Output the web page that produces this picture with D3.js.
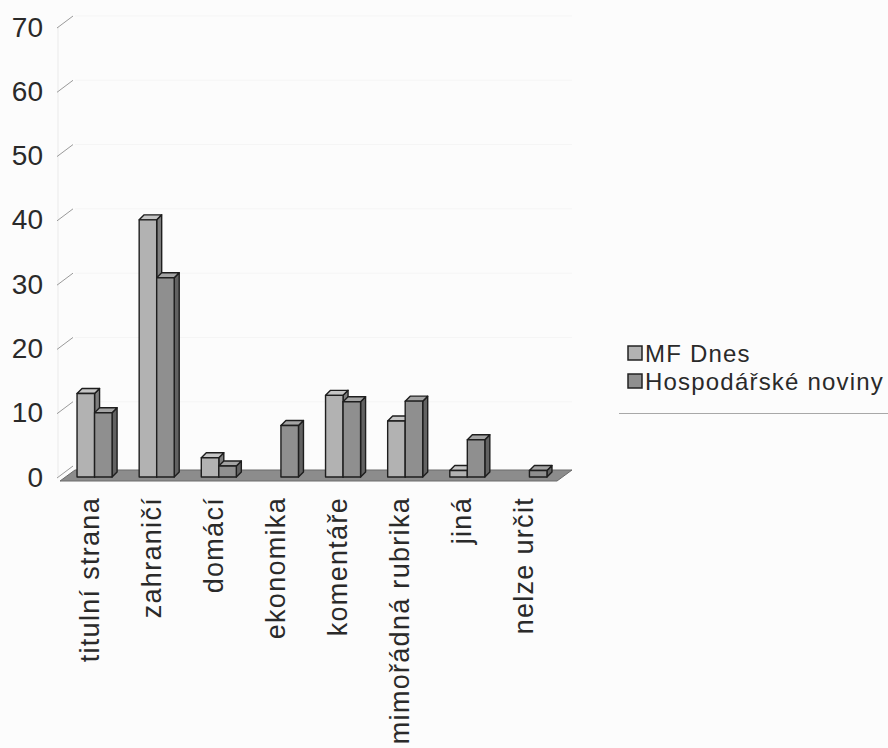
<!DOCTYPE html>
<html>
<head>
<meta charset="utf-8">
<script src="https://cdn.jsdelivr.net/npm/d3@7"></script>
<style>
  html, body { margin: 0; padding: 0; background: #fcfcfc; }
  svg { display: block; font-family: "Liberation Sans", Arial, sans-serif; }
</style>
</head>
<body>
<svg id="chart" width="888" height="748"></svg>
<script>
// Categories (newspaper sections) and the share for each paper
const categories = ["titulní strana", "zahraničí", "domácí", "ekonomika", "komentáře", "mimořádná rubrika", "jiná", "nelze určit"];
const seriesNames = ["MF Dnes", "Hospodářské noviny"];
const mfDnes = [13, 40, 3, 0, 12.7, 8.7, 1, 0];
const hospodarskeNoviny = [10, 31, 1.7, 8, 11.7, 11.8, 5.8, 1];
const yTicks = [0, 10, 20, 30, 40, 50, 60, 70];

const svg = d3.select("#chart");

// Oblique 3D projection: depth of floor/wall and depth of each bar
const floorDepth = { dx: 15, dy: -11 };
const barDepth = { dx: 5, dy: -5 };

const y = d3.scaleLinear().domain([0, 70]).range([477, 27]);
const x = d3.scaleBand().domain(categories).range([63.5, 560.5]).paddingInner(0.436).paddingOuter(0.218);
const xs = d3.scaleBand().domain(seriesNames).range([0, x.bandwidth()]);

const fills = {
  "MF Dnes": { front: "#b2b2b2", top: "#c6c6c6", side: "#7e7e7e" },
  "Hospodářské noviny": { front: "#8f8f8f", top: "#a4a4a4", side: "#626262" }
};

const floorFront = { x0: 60, x1: 557, y: 481 };

// Back wall gridlines (barely visible)
const grid = svg.append("g");
grid.selectAll("line").data(yTicks.filter(d => d > 0)).join("line")
  .attr("x1", floorFront.x0 + floorDepth.dx).attr("x2", floorFront.x1 + floorDepth.dx)
  .attr("y1", d => y(d) + floorDepth.dy).attr("y2", d => y(d) + floorDepth.dy)
  .attr("stroke", "#f5f5f5").attr("stroke-width", 1);

// Faint side wall edge
svg.append("line")
  .attr("x1", 58).attr("x2", 58).attr("y1", y(70)).attr("y2", y(0))
  .attr("stroke", "#f0f0f0").attr("stroke-width", 1.5);

// Diagonal tick marks on the value axis
svg.append("g").selectAll("line").data(yTicks).join("line")
  .attr("x1", 57).attr("y1", d => y(d) + 1)
  .attr("x2", 57 + floorDepth.dx + 1).attr("y2", d => y(d) + 1 + floorDepth.dy - 1)
  .attr("stroke", "#9a9a9a").attr("stroke-width", 1);

// Value axis labels
svg.append("g").selectAll("text").data(yTicks).join("text")
  .attr("x", 43).attr("y", d => y(d))
  .attr("text-anchor", "end").attr("dominant-baseline", "central")
  .attr("font-size", 28).attr("fill", "#2a2a2a")
  .text(d => d);

// Floor
svg.append("polygon")
  .attr("points", [
    [floorFront.x0, floorFront.y],
    [floorFront.x1, floorFront.y],
    [floorFront.x1 + floorDepth.dx, floorFront.y + floorDepth.dy],
    [floorFront.x0 + floorDepth.dx, floorFront.y + floorDepth.dy]
  ].map(p => p.join(",")).join(" "))
  .attr("fill", "#8c8c8c").attr("stroke", "#6a6a6a").attr("stroke-width", 1);

// Bars
const rows = [];
categories.forEach((c, i) => {
  rows.push({ cat: c, series: seriesNames[0], value: mfDnes[i] });
  rows.push({ cat: c, series: seriesNames[1], value: hospodarskeNoviny[i] });
});

const bars = svg.append("g")
  .attr("stroke", "#1e1e1e").attr("stroke-width", 1.4).attr("stroke-linejoin", "round");

rows.filter(d => d.value > 0).forEach(d => {
  const x0 = x(d.cat) + xs(d.series);
  const w = xs.bandwidth();
  const yt = y(d.value);
  const yb = y(0);
  const { dx, dy } = barDepth;
  const g = bars.append("g");
  g.append("polygon")
    .attr("points", [[x0 + w, yt], [x0 + w + dx, yt + dy], [x0 + w + dx, yb + dy], [x0 + w, yb]].map(p => p.join(",")).join(" "))
    .attr("fill", fills[d.series].side);
  g.append("polygon")
    .attr("points", [[x0, yt], [x0 + dx, yt + dy], [x0 + w + dx, yt + dy], [x0 + w, yt]].map(p => p.join(",")).join(" "))
    .attr("fill", fills[d.series].top);
  g.append("rect")
    .attr("x", x0).attr("y", yt).attr("width", w).attr("height", yb - yt)
    .attr("fill", fills[d.series].front);
});

// Category labels, rotated
svg.append("g").selectAll("text").data(categories).join("text")
  .attr("transform", d => `translate(${x(d) + x.bandwidth() / 2 + 4},497) rotate(-90)`)
  .attr("text-anchor", "end")
  .attr("font-size", 27).attr("letter-spacing", 1.3).attr("fill", "#2a2a2a")
  .text(d => d);

// Legend
const legend = svg.append("g");
seriesNames.forEach((name, i) => {
  const ly = 353 + i * 28;
  legend.append("rect")
    .attr("x", 628).attr("y", ly - 7).attr("width", 14).attr("height", 14)
    .attr("fill", fills[name].front).attr("stroke", "#222").attr("stroke-width", 1.5);
  legend.append("text")
    .attr("x", 645).attr("y", ly).attr("dominant-baseline", "central")
    .attr("font-size", 24).attr("letter-spacing", 1.2).attr("fill", "#2a2a2a")
    .text(name);
});
legend.append("line")
  .attr("x1", 619).attr("x2", 888).attr("y1", 413.5).attr("y2", 413.5)
  .attr("stroke", "#a8a8a8").attr("stroke-width", 1);
</script>
</body>
</html>
